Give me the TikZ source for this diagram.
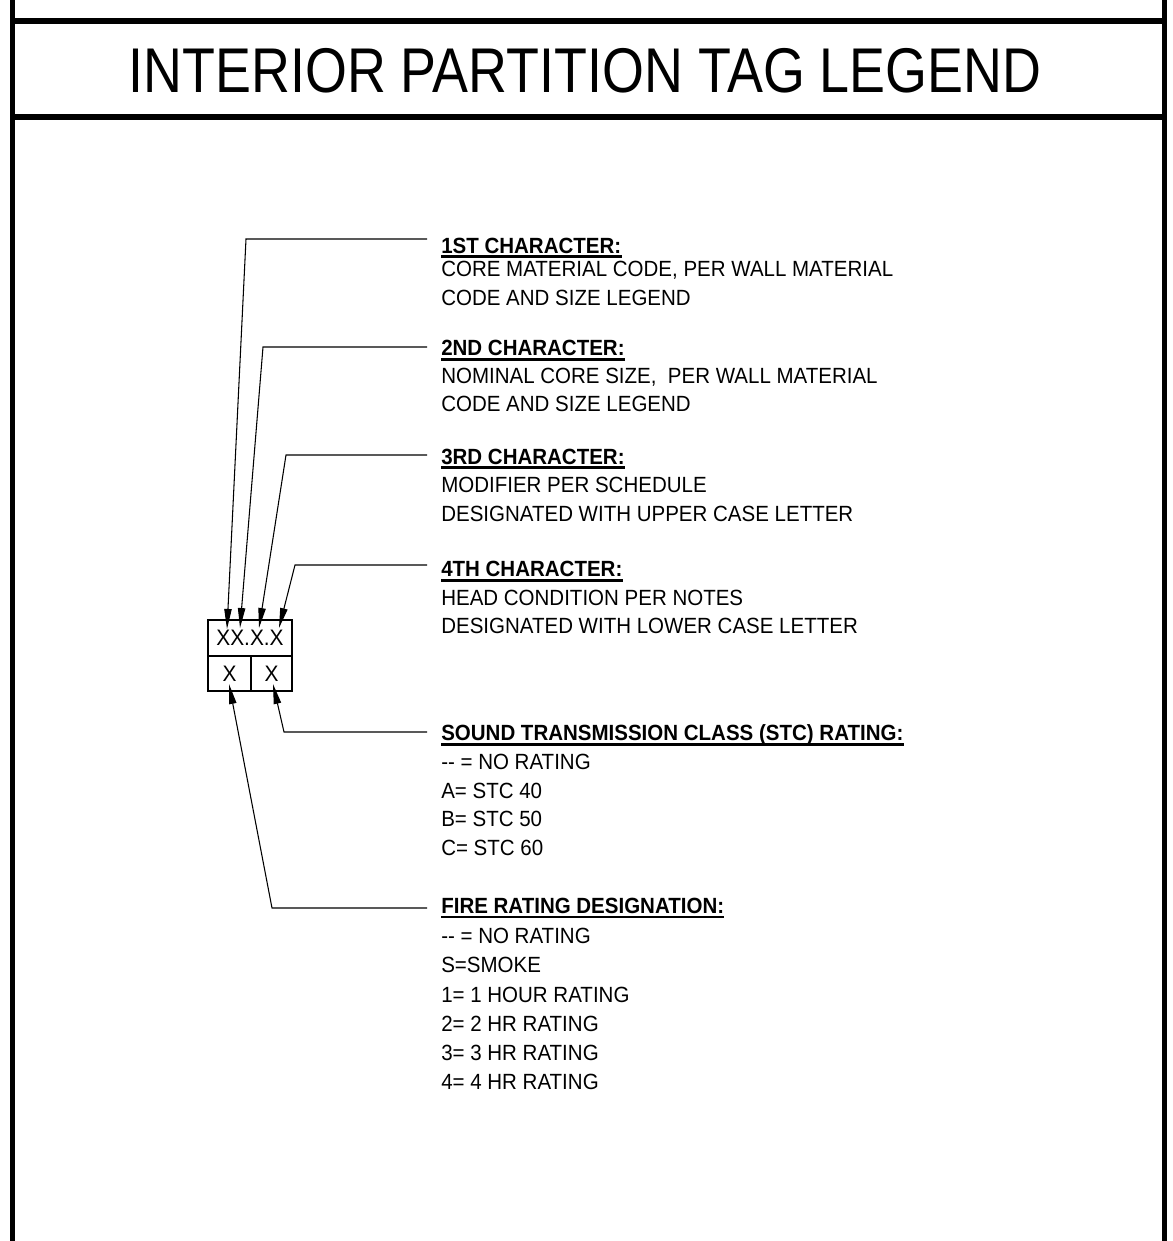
\documentclass[tikz,border=0pt]{standalone}
\usepackage{fontspec}
\usetikzlibrary{arrows.meta}
\newfontfamily\titlefont[FakeStretch=0.852]{Liberation Sans}
\newfontfamily\bodyfont[FakeStretch=0.932]{Liberation Sans}
\begin{document}
\begin{tikzpicture}[x=0.75pt,y=-0.75pt,
  vframe/.style={line width=3.75pt},
  hframe/.style={line width=4.5pt},
  txt/.style={anchor=base west, inner sep=0pt, font=\bodyfont\fontsize{16.5pt}{19pt}\selectfont},
  head/.style={txt, font=\bodyfont\bfseries\fontsize{16.5pt}{19pt}\selectfont},
  uline/.style={line width=2pt},
  cell/.style={draw, line width=1.5pt, inner sep=0pt, font=\bodyfont\fontsize{16.8pt}{19pt}\selectfont},
  lead/.style={line width=0.8pt, -{Triangle[length=15pt,width=5.5pt]}}
]
\useasboundingbox (0,0) rectangle (1172,1241);
% frame
\draw[vframe] (12,0) -- (12,1241);
\draw[vframe] (1164,0) -- (1164,1241);
\draw[hframe] (10,21) -- (1166,21);
\draw[hframe] (10,117) -- (1166,117);
% title
\node[anchor=base, inner sep=0pt, font=\titlefont\fontsize{47.4pt}{50pt}\selectfont] (title) at (585,93) {INTERIOR PARTITION TAG LEGEND};

% tag box
\node[cell, minimum width=63pt, minimum height=27pt] (tag) at (250,638) {XX.X.X};
\node[cell, minimum width=32.25pt, minimum height=26pt] (firecell) at (229.5,673.3) {X};
\node[cell, minimum width=30.75pt, minimum height=26pt] (stccell) at (271.5,673.3) {X};

% text blocks
\node[head] (c1h) at (441,253.3) {1ST CHARACTER:};
\node[txt] (c1a) at (441,276.7) {CORE MATERIAL CODE, PER WALL MATERIAL};
\node[txt] (c1b) at (441,305) {CODE AND SIZE LEGEND};

\node[head] (c2h) at (441,355.7) {2ND CHARACTER:};
\node[txt] (c2a) at (441,383.3) {NOMINAL CORE SIZE, \ PER WALL MATERIAL};
\node[txt] (c2b) at (441,411) {CODE AND SIZE LEGEND};

\node[head] (c3h) at (441,464) {3RD CHARACTER:};
\node[txt] (c3a) at (441,492.7) {MODIFIER PER SCHEDULE};
\node[txt] (c3b) at (441,521) {DESIGNATED WITH UPPER CASE LETTER};

\node[head] (c4h) at (441,576.7) {4TH CHARACTER:};
\node[txt] (c4a) at (441,605) {HEAD CONDITION PER NOTES};
\node[txt] (c4b) at (441,633.3) {DESIGNATED WITH LOWER CASE LETTER};

\node[head] (stch) at (441,740.7) {SOUND TRANSMISSION CLASS (STC) RATING:};
\node[txt] (stca) at (441,769.3) {-{}- = NO RATING};
\node[txt] (stcb) at (441,798.3) {A= STC 40};
\node[txt] (stcc) at (441,826.7) {B= STC 50};
\node[txt] (stcd) at (441,855) {C= STC 60};

\node[head] (fireh) at (441,913.5) {FIRE RATING DESIGNATION:};
\node[txt] (firea) at (441,943.3) {-{}- = NO RATING};
\node[txt] (fireb) at (441,972.7) {S=SMOKE};
\node[txt] (firec) at (441,1002) {1= 1 HOUR RATING};
\node[txt] (fired) at (441,1031.7) {2= 2 HR RATING};
\node[txt] (firee) at (441,1060) {3= 3 HR RATING};
\node[txt] (firef) at (441,1089) {4= 4 HR RATING};

\foreach \h in {c1h,c2h,c3h,c4h,stch,fireh}
  \draw[uline] ([yshift=-2.6pt]\h.base west) -- ([yshift=-2.6pt]\h.base east);

% leader coordinates
\coordinate (e1) at (427,239); \coordinate (k1) at (246,239); \coordinate (t1) at (227,629);
\coordinate (e2) at (427,347); \coordinate (k2) at (263,347); \coordinate (t2) at (240,628);
\coordinate (e3) at (427,455); \coordinate (k3) at (286,455); \coordinate (t3) at (259,628);
\coordinate (e4) at (427,565); \coordinate (k4) at (295,565); \coordinate (t4) at (279,628);
\coordinate (e5) at (427,732); \coordinate (k5) at (284,732); \coordinate (t5) at (273,684);
\coordinate (e6) at (427,908); \coordinate (k6) at (272,908); \coordinate (t6) at (229,684);

\draw[lead] (e1) -- (k1) -- (t1);
\draw[lead] (e2) -- (k2) -- (t2);
\draw[lead] (e3) -- (k3) -- (t3);
\draw[lead] (e4) -- (k4) -- (t4);
\draw[lead] (e5) -- (k5) -- (t5);
\draw[lead] (e6) -- (k6) -- (t6);
\end{tikzpicture}
\end{document}
